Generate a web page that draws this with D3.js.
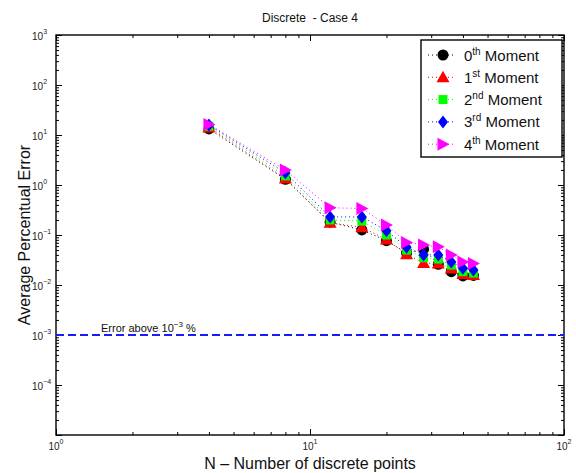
<!DOCTYPE html>
<html>
<head>
<meta charset="utf-8">
<script src="https://cdn.jsdelivr.net/npm/d3@7"></script>
<style>
  html, body { margin: 0; padding: 0; background: #fff; }
  svg { display: block; font-family: "Liberation Sans", Arial, Helvetica, sans-serif; }
</style>
</head>
<body>
<svg id="chart" width="576" height="473"></svg>
<script>
// Number of discrete points
const nPoints = [4, 8, 12, 16, 20, 24, 28, 32, 36, 40, 44];

// Average percentual error of each moment
const moment0 = [13.2, 1.30, 0.18, 0.126, 0.077, 0.044, 0.052, 0.026, 0.0185, 0.0152, 0.0155];
const moment1 = [14.2, 1.35, 0.175, 0.143, 0.081, 0.041, 0.0275, 0.027, 0.0215, 0.0166, 0.0158];
const moment2 = [15.0, 1.52, 0.20, 0.19, 0.10, 0.050, 0.035, 0.033, 0.025, 0.0185, 0.0173];
const moment3 = [15.8, 1.75, 0.23, 0.23, 0.122, 0.057, 0.040, 0.040, 0.029, 0.0216, 0.020];
const moment4 = [16.3, 2.0, 0.35, 0.34, 0.158, 0.071, 0.063, 0.058, 0.040, 0.029, 0.027];

const seriesNames = ["0", "1", "2", "3", "4"];
const seriesSuffix = ["th", "st", "nd", "rd", "th"];
const seriesColors = ["#000000", "#ff0000", "#00ff00", "#0000ff", "#ff00ff"];
const seriesShapes = ["circle", "triangleUp", "square", "diamond", "triangleRight"];
const seriesValues = [moment0, moment1, moment2, moment3, moment4];

// Tolerance reference line
const thresholdValue = 1e-3;

// Axis ticks
const xMajorTicks = [1, 10, 100];
const yMajorTicks = [1e-4, 1e-3, 1e-2, 1e-1, 1, 10, 100, 1000];
const xTickExponents = ["0", "1", "2"];
const yTickExponents = ["\u22124", "\u22123", "\u22122", "\u22121", "0", "1", "2", "3"];

const svg = d3.select("#chart");
const plotLeft = 56, plotRight = 564, plotTop = 35, plotBottom = 435;

const x = d3.scaleLog().domain([1, 100]).range([plotLeft, plotRight]);
const y = d3.scaleLog().domain([1e-5, 1e3]).range([plotBottom, plotTop]);

function minorTicks(lo, hi) {
  const out = [];
  for (let e = Math.round(Math.log10(lo)); e < Math.round(Math.log10(hi)); e++) {
    for (let k = 2; k <= 9; k++) out.push(k * Math.pow(10, e));
  }
  return out;
}
const xMinor = minorTicks(1, 100);
const yMinor = minorTicks(1e-5, 1e3);

// Inward ticks on all four sides
const axisGroup = svg.append("g").attr("class", "axes");
function addAxis(axisFn, scale, values, size, transform) {
  const g = axisGroup.append("g").attr("transform", transform)
    .call(axisFn(scale).tickValues(values).tickSize(size).tickFormat(""));
  g.select(".domain").remove();
  g.selectAll(".tick line").attr("stroke", "#000").attr("stroke-width", 1);
}
addAxis(d3.axisBottom, x, xMajorTicks, -6, `translate(0,${plotBottom})`);
addAxis(d3.axisBottom, x, xMinor, -3, `translate(0,${plotBottom})`);
addAxis(d3.axisTop, x, xMajorTicks, -6, `translate(0,${plotTop})`);
addAxis(d3.axisTop, x, xMinor, -3, `translate(0,${plotTop})`);
addAxis(d3.axisLeft, y, yMajorTicks.concat([1e-5]), -6, `translate(${plotLeft},0)`);
addAxis(d3.axisLeft, y, yMinor, -3, `translate(${plotLeft},0)`);
addAxis(d3.axisRight, y, yMajorTicks.concat([1e-5]), -6, `translate(${plotRight},0)`);
addAxis(d3.axisRight, y, yMinor, -3, `translate(${plotRight},0)`);

// Axes box
axisGroup.append("rect")
  .attr("x", plotLeft).attr("y", plotTop)
  .attr("width", plotRight - plotLeft).attr("height", plotBottom - plotTop)
  .attr("fill", "none").attr("stroke", "#000").attr("stroke-width", 1.4);

// Tick labels with superscript exponents
const yLabels = svg.append("g").selectAll("text")
  .data(yMajorTicks.map((v, i) => ({ v, e: yTickExponents[i] })))
  .join("text")
  .attr("x", 32).attr("y", d => y(d.v) + 4.5)
  .attr("font-size", 10).attr("fill", "#222");
yLabels.append("tspan").text("10");
yLabels.append("tspan").attr("dy", -6).attr("font-size", 7).text(d => d.e);

const xLabels = svg.append("g").selectAll("text")
  .data(xMajorTicks.map((v, i) => ({ v, e: xTickExponents[i] })))
  .join("text")
  .attr("x", d => x(d.v)).attr("y", 450)
  .attr("text-anchor", "middle")
  .attr("font-size", 10).attr("fill", "#222");
xLabels.append("tspan").text("10");
xLabels.append("tspan").attr("dy", -6).attr("font-size", 7).text(d => d.e);

// Title and axis labels
svg.append("text").attr("x", 310).attr("y", 22).attr("text-anchor", "middle")
  .attr("font-size", 12).attr("fill", "#111").attr("xml:space", "preserve")
  .text("Discrete  - Case 4");
svg.append("text").attr("x", 310).attr("y", 469).attr("text-anchor", "middle")
  .attr("font-size", 16).attr("fill", "#111")
  .text("N \u2013 Number of discrete points");
svg.append("text").attr("transform", "translate(30,235) rotate(-90)")
  .attr("text-anchor", "middle").attr("font-size", 16).attr("fill", "#111")
  .text("Average Percentual Error");

// Threshold line and its note
svg.append("line")
  .attr("x1", plotLeft).attr("x2", plotRight)
  .attr("y1", y(thresholdValue)).attr("y2", y(thresholdValue))
  .attr("stroke", "#1a1aff").attr("stroke-width", 2)
  .attr("stroke-dasharray", "8,4");
const note = svg.append("text").attr("x", 101).attr("y", y(thresholdValue) - 3)
  .attr("font-size", 11).attr("fill", "#111");
note.append("tspan").text("Error above 10");
note.append("tspan").attr("dy", -5).attr("font-size", 8).text("\u22123");
note.append("tspan").attr("dy", 5).text(" %");

// Marker shapes
function markerPath(shape) {
  switch (shape) {
    case "circle": return d3.symbol(d3.symbolCircle, 95)();
    case "square": return "M-4.5,-4.5H4.5V4.5H-4.5Z";
    case "triangleUp": return "M0,-6.5L6.5,5L-6.5,5Z";
    case "diamond": return "M0,-6.5L5,0L0,6.5L-5,0Z";
    case "triangleRight": return "M-5.5,-6.5L6.5,0L-5.5,6.5Z";
  }
}

// Series: dotted line then markers, drawn in order
const line = d3.line().x(d => x(d[0])).y(d => y(d[1]));
seriesValues.forEach((vals, i) => {
  const pts = nPoints.map((n, j) => [n, vals[j]]);
  const g = svg.append("g");
  g.append("path").datum(pts).attr("d", line)
    .attr("fill", "none").attr("stroke", seriesColors[i])
    .attr("stroke-width", 1).attr("stroke-dasharray", "1,3");
  g.selectAll("path.mk").data(pts).join("path").attr("class", "mk")
    .attr("transform", d => `translate(${x(d[0])},${y(d[1])})`)
    .attr("d", markerPath(seriesShapes[i]))
    .attr("fill", seriesColors[i]);
});

// Legend
const legend = svg.append("g");
legend.append("rect").attr("x", 421).attr("y", 40).attr("width", 141).attr("height", 117)
  .attr("fill", "#fff").attr("stroke", "#000").attr("stroke-width", 1.4);
seriesNames.forEach((name, i) => {
  const cy = 55 + i * 22.3;
  legend.append("line").attr("x1", 428).attr("x2", 456).attr("y1", cy).attr("y2", cy)
    .attr("stroke", seriesColors[i]).attr("stroke-width", 1).attr("stroke-dasharray", "1,3");
  legend.append("path").attr("transform", `translate(443,${cy})`)
    .attr("d", markerPath(seriesShapes[i])).attr("fill", seriesColors[i]);
  const t = legend.append("text").attr("x", 464).attr("y", cy + 5.5)
    .attr("font-size", 15).attr("fill", "#111");
  t.append("tspan").text(name);
  t.append("tspan").attr("dy", -6).attr("font-size", 10).text(seriesSuffix[i]);
  t.append("tspan").attr("dy", 6).text(" Moment");
});
</script>
</body>
</html>
